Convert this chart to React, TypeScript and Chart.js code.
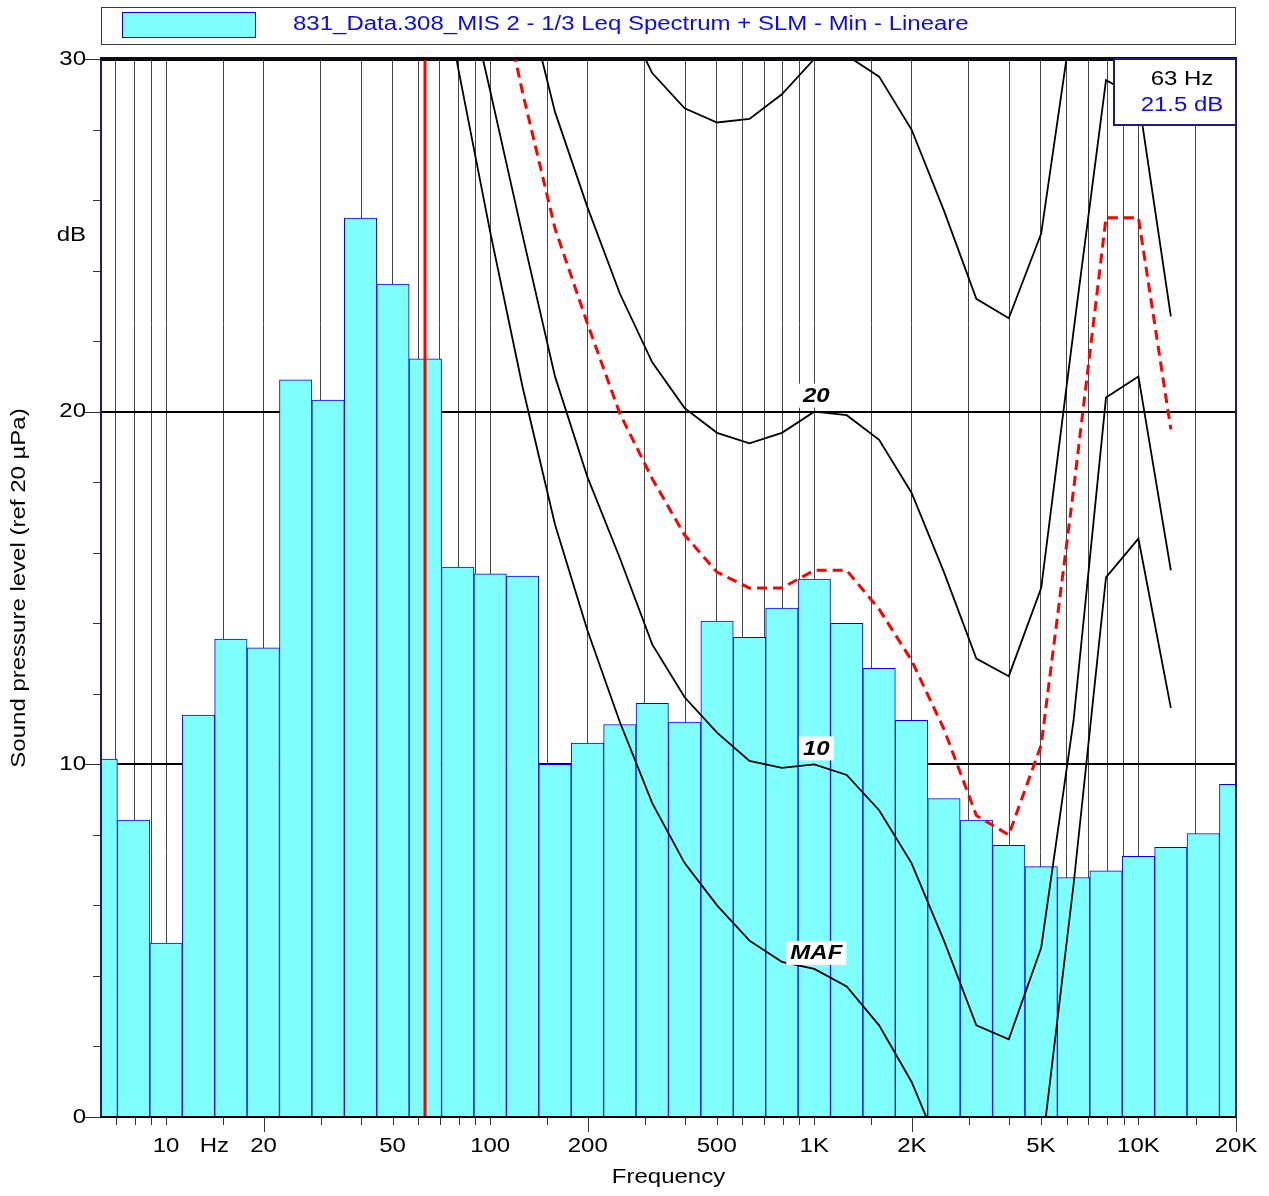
import React, { useEffect, useRef } from 'react';
import { Chart, registerables } from 'chart.js';

Chart.register(...registerables);

// ---- Data -------------------------------------------------------------
const BAND_FREQ = [6.3, 8, 10, 12.5, 16, 20, 25, 31.5, 40, 50, 63, 80, 100, 125, 160, 200, 250, 315, 400, 500, 630, 800, 1000, 1250, 1600, 2000, 2500, 3150, 4000, 5000, 6300, 8000, 10000, 12500, 16000, 20000];
const LEQ_MIN_DB = [10.15, 8.42, 4.93, 11.4, 13.55, 13.3, 20.9, 20.33, 25.49, 23.62, 21.5, 15.59, 15.4, 15.34, 10.0, 10.6, 11.13, 11.73, 11.2, 14.06, 13.6, 14.43, 15.25, 14.0, 12.72, 11.25, 9.03, 8.42, 7.7, 7.1, 6.79, 6.98, 7.39, 7.65, 8.04, 9.43];

const CONTOUR_FREQ = [63, 80, 100, 125, 160, 200, 250, 315, 400, 500, 630, 800, 1000, 1250, 1600, 2000, 2500, 3150, 4000, 5000, 6300, 8000, 10000, 12500];
const MAF_DB = [35.5, 29.8, 25.1, 20.7, 16.8, 13.8, 11.2, 8.9, 7.2, 6.0, 5.0, 4.4, 4.2, 3.7, 2.6, 1.0, -1.2, -3.6, -3.9, -1.1, 6.6, 15.3, 16.4, 11.6];
const PHON10_DB = [null, 33.1, 29.1, 25.0, 21.0, 18.15, 15.85, 13.4, 11.9, 10.9, 10.1, 9.9, 10.0, 9.7, 8.7, 7.2, 5.0, 2.6, 2.2, 4.8, 11.25, 20.4, 21.0, 15.5];
const PHON20_DB = [null, null, null, 32.2, 28.5, 25.8, 23.35, 21.4, 20.1, 19.4, 19.1, 19.4, 20.0, 19.9, 19.2, 17.7, 15.45, 13.0, 12.5, 15.0, 22.3, 29.4, 28.9, 22.7];
const PHON30_DB = [null, null, null, null, null, null, 31.5, 29.6, 28.6, 28.2, 28.3, 29.0, 30.0, 30.1, 29.5, 28.0, 25.7, 23.2, 22.65, 25.05, 31.4, null, null, null];
const LIMIT_DB = [null, null, 33.3, 29.05, 25.2, 22.5, 19.95, 18.1, 16.5, 15.45, 15.0, 15.0, 15.5, 15.5, 14.4, 12.95, 11.0, 8.55, 8.0, 10.55, 17.8, 25.5, 25.5, 19.5];

const X_LABEL_FREQ = [10, 14.1, 20, 50, 100, 200, 500, 1000, 2000, 5000, 10000, 20000];
const X_LABELS = ['10', 'Hz', '20', '50', '100', '200', '500', '1K', '2K', '5K', '10K', '20K'];
const X_GRID_FREQ = [7, 8, 9, 10, 15, 20, 30, 40, 50, 60, 70, 80, 90, 100, 150, 200, 300, 400, 500, 600, 700, 800, 900, 1000, 1500, 2000, 3000, 4000, 5000, 6000, 7000, 8000, 9000, 10000, 15000, 20000];
const X_MAJOR_FREQ = [20, 200, 2000, 20000];
const Y_TICKS = [0, 2, 4, 6, 8, 10, 12, 14, 16, 18, 20, 22, 24, 26, 28, 30];
const Y_UNIT_AT = 25;

const CURSOR_FREQ = 63;
const CURSOR_DB = 21.5;
const LEGEND_TEXT = '831_Data.308_MIS 2 - 1/3 Leq Spectrum + SLM - Min - Lineare';
const X_TITLE = 'Frequency';
const Y_TITLE = 'Sound pressure level (ref 20 µPa)';
const CONTOUR_LABELS = [
  { text: 'MAF', values: MAF_DB },
  { text: '10', values: PHON10_DB },
  { text: '20', values: PHON20_DB },
];

// ---- Helpers ----------------------------------------------------------
const FONT = '"Liberation Sans", Arial, Helvetica, sans-serif';
const STRETCH = 1.2;
const exact = (f: number) => Math.pow(10, Math.round(10 * Math.log10(f)) / 10);
const toPoints = (freqs: number[], vals: (number | null)[]) =>
  freqs.map((f, i) => ({ x: exact(f), y: vals[i] }));

function drawText(
  ctx: CanvasRenderingContext2D,
  text: string,
  x: number,
  y: number,
  align: CanvasTextAlign,
  color: string,
  font: string = `20px ${FONT}`,
  rotation = 0,
) {
  ctx.save();
  ctx.translate(x, y);
  if (rotation) ctx.rotate(rotation);
  ctx.scale(STRETCH, 1);
  ctx.font = font;
  ctx.fillStyle = color;
  ctx.textAlign = align;
  ctx.textBaseline = 'middle';
  ctx.fillText(text, 0, 0);
  ctx.restore();
}

const overlay = {
  id: 'overlay',
  beforeDraw(chart: any) {
    const { ctx, width, height } = chart;
    ctx.save();
    ctx.fillStyle = '#ffffff';
    ctx.fillRect(0, 0, width, height);
    ctx.restore();
  },
  afterDatasetsDraw(chart: any) {
    const { ctx, chartArea: a, scales } = chart;
    const xs = scales.x;
    const ys = scales.y;
    ctx.save();
    // cursor
    const cx = Math.round(xs.getPixelForValue(exact(CURSOR_FREQ)));
    ctx.fillStyle = '#ff0000';
    ctx.fillRect(cx - 1.5, a.top, 3, a.bottom - a.top);
    // contour labels
    const i1k = CONTOUR_FREQ.indexOf(1000);
    const lf = `italic bold 20px ${FONT}`;
    ctx.font = lf;
    CONTOUR_LABELS.forEach((l) => {
      const v = l.values[i1k] as number;
      const x = xs.getPixelForValue(1000) + 2;
      const y = ys.getPixelForValue(v) - 16;
      const w = ctx.measureText(l.text).width * STRETCH;
      ctx.fillStyle = '#ffffff';
      ctx.fillRect(x - w / 2 - 4, y - 12, w + 8, 24);
      drawText(ctx, l.text, x, y + 1, 'center', '#000000', lf);
    });
    ctx.restore();
  },
  afterDraw(chart: any) {
    const { ctx, chartArea: a, scales } = chart;
    const xs = scales.x;
    const ys = scales.y;
    ctx.save();
    // borders
    ctx.fillStyle = '#1c1c78';
    ctx.fillRect(a.left - 1, a.top, 2, a.bottom - a.top);
    ctx.fillRect(a.right - 1, a.top, 2, a.bottom - a.top);
    ctx.fillStyle = '#0a0a1e';
    ctx.fillRect(a.left - 1, a.top - 2, a.right - a.left + 2, 3);
    ctx.fillStyle = '#000000';
    ctx.fillRect(a.left - 1, a.bottom - 1, a.right - a.left + 2, 2);
    // tick marks
    ctx.strokeStyle = '#333333';
    ctx.lineWidth = 1;
    ctx.beginPath();
    Y_TICKS.forEach((v) => {
      const y = Math.round(ys.getPixelForValue(v)) + 0.5;
      const len = v % 10 === 0 ? 15 : 7;
      ctx.moveTo(a.left - 1 - len, y);
      ctx.lineTo(a.left - 1, y);
    });
    X_GRID_FREQ.forEach((f) => {
      const x = Math.round(xs.getPixelForValue(f)) + 0.5;
      const len = X_MAJOR_FREQ.includes(f) ? 15 : 8;
      ctx.moveTo(x, a.bottom);
      ctx.lineTo(x, a.bottom + len);
    });
    ctx.stroke();
    // tick labels (from the library's ticks)
    ys.ticks.forEach((t: any) => {
      const lab = t.label !== undefined ? String(t.label) : (t.value % 10 === 0 ? String(t.value) : '');
      if (lab) drawText(ctx, lab, a.left - 15, ys.getPixelForValue(t.value), 'right', '#000000');
    });
    xs.ticks.forEach((t: any, i: number) => {
      const lab = t.label !== undefined ? String(t.label) : X_LABELS[i];
      if (lab) drawText(ctx, lab, xs.getPixelForValue(t.value), a.bottom + 29, 'center', '#000000');
    });
    drawText(ctx, 'dB', a.left - 15, ys.getPixelForValue(Y_UNIT_AT), 'right', '#000000');
    // axis titles
    drawText(ctx, X_TITLE, (a.left + a.right) / 2, 1177, 'center', '#000000');
    drawText(ctx, Y_TITLE, 19, (a.top + a.bottom) / 2, 'center', '#000000', `20px ${FONT}`, -Math.PI / 2);
    // legend box
    ctx.fillStyle = '#ffffff';
    ctx.fillRect(a.left, 7, a.right - a.left, 37);
    ctx.strokeStyle = '#3a3a3a';
    ctx.lineWidth = 1;
    ctx.strokeRect(a.left + 0.5, 7.5, a.right - a.left - 1, 37);
    ctx.fillStyle = '#80ffff';
    ctx.fillRect(122, 12, 134, 26);
    ctx.strokeStyle = '#0000ff';
    ctx.strokeRect(122.5, 12.5, 133, 25);
    drawText(ctx, LEGEND_TEXT, 293, 24, 'left', 'rgb(10,10,235)');
    // info box
    const bx = 1114;
    const by = a.top;
    ctx.fillStyle = '#ffffff';
    ctx.fillRect(bx, by, a.right - bx, 66);
    ctx.strokeStyle = '#1c1c78';
    ctx.lineWidth = 2;
    ctx.strokeRect(bx, by, a.right - bx, 66);
    drawText(ctx, `${CURSOR_FREQ} Hz`, 1182, by + 20, 'center', '#000000');
    drawText(ctx, `${CURSOR_DB.toFixed(1)} dB`, 1182, by + 46, 'center', 'rgb(10,10,235)');
    ctx.restore();
  },
};

export default function App() {
  const ref = useRef<HTMLCanvasElement>(null);
  useEffect(() => {
    const canvas = ref.current;
    if (!canvas) return;
    Chart.defaults.font.family = FONT;
    Chart.defaults.font.size = 20;
    Chart.defaults.color = '#000';
    const lineBase = {
      type: 'line' as const,
      borderColor: '#000000',
      borderWidth: 1.8,
      pointRadius: 0,
      fill: false,
      tension: 0,
      spanGaps: false,
      order: 1,
      xAxisID: 'x',
      yAxisID: 'y',
    };
    const chart = new Chart(canvas, {
      type: 'bar',
      data: {
        datasets: [
          {
            type: 'bar',
            label: LEGEND_TEXT,
            data: toPoints(BAND_FREQ, LEQ_MIN_DB) as any,
            backgroundColor: '#80ffff',
            borderColor: '#0000ff',
            borderWidth: 1,
            barPercentage: 1,
            categoryPercentage: 1,
            order: 10,
            xAxisID: 'x',
            yAxisID: 'y',
          },
          { ...lineBase, label: 'MAF', data: toPoints(CONTOUR_FREQ, MAF_DB) as any },
          { ...lineBase, label: '10 phon', data: toPoints(CONTOUR_FREQ, PHON10_DB) as any },
          { ...lineBase, label: '20 phon', data: toPoints(CONTOUR_FREQ, PHON20_DB) as any },
          { ...lineBase, label: '30 phon', data: toPoints(CONTOUR_FREQ, PHON30_DB) as any },
          {
            ...lineBase,
            label: 'limit',
            data: toPoints(CONTOUR_FREQ, LIMIT_DB) as any,
            borderColor: '#ff0000',
            borderWidth: 3,
            borderDash: [10, 6],
            order: 0,
          },
        ] as any,
      },
      options: {
        animation: false,
        responsive: false,
        events: [],
        layout: { padding: { top: 59, right: 33, left: 0, bottom: 0 } },
        plugins: { legend: { display: false }, tooltip: { enabled: false }, title: { display: false } },
        scales: {
          x: {
            type: 'logarithmic',
            position: 'bottom',
            min: 6.3,
            max: 20000,
            offset: false,
            grid: { display: false, drawTicks: false, offset: false },
            border: { display: true, color: '#000', width: 2 },
            afterBuildTicks: (s: any) => {
              s.ticks = X_LABEL_FREQ.map((v) => ({ value: v }));
            },
            afterFit: (s: any) => {
              s.height = 79;
            },
            ticks: {
              display: false,
              autoSkip: false,
              maxRotation: 0,
              callback: (_v: any, i: number) => X_LABELS[i],
            },
            title: { display: false },
          },
          xg: {
            type: 'logarithmic',
            position: 'bottom',
            min: 6.3,
            max: 20000,
            offset: false,
            grid: { display: true, drawTicks: false, offset: false, color: '#454545', lineWidth: 1 },
            border: { display: false },
            ticks: { display: false },
            afterBuildTicks: (s: any) => {
              s.ticks = X_GRID_FREQ.map((v) => ({ value: v }));
            },
            afterFit: (s: any) => {
              s.height = 0;
            },
          },
          y: {
            type: 'linear',
            min: 0,
            max: 30,
            afterBuildTicks: (s: any) => {
              s.ticks = Y_TICKS.map((v) => ({ value: v }));
            },
            afterFit: (s: any) => {
              s.width = 101;
            },
            grid: {
              drawTicks: false,
              color: (c: any) => (c.tick && c.tick.value % 10 === 0 && c.tick.value > 0 ? '#000' : 'rgba(0,0,0,0)'),
              lineWidth: (c: any) => (c.tick && c.tick.value === 30 ? 3 : 2),
            },
            border: { display: true, color: '#1c1c78', width: 2 },
            ticks: {
              display: false,
              autoSkip: false,
              callback: (v: any) => (Number(v) % 10 === 0 ? String(v) : ''),
            },
            title: { display: false },
          },
        },
      } as any,
      plugins: [overlay],
    });
    return () => chart.destroy();
  }, []);
  return (
    <div style={{ position: 'absolute', left: 0, top: 0, width: 1269, height: 1196, background: '#fff' }}>
      <canvas ref={ref} width={1269} height={1196} style={{ display: 'block', width: 1269, height: 1196 }} />
    </div>
  );
}
